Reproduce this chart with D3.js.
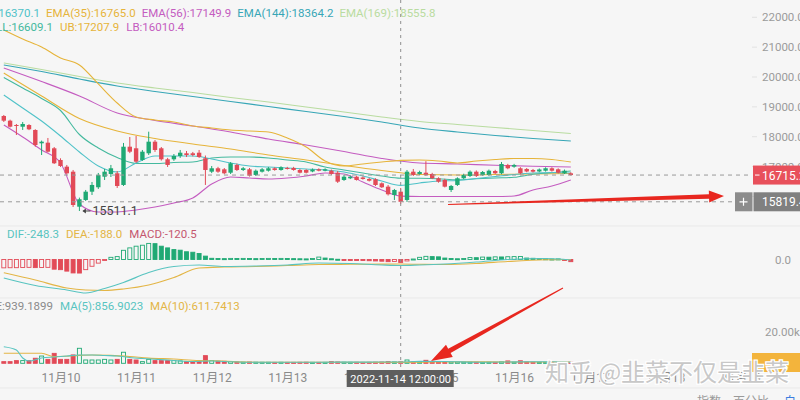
<!DOCTYPE html>
<html>
<head>
<meta charset="utf-8">
<script src="https://cdn.jsdelivr.net/npm/d3@7"></script>
<style>
  body { margin: 0; background: #f6f6f6; }
  svg { display: block; font-family: Roboto, "Noto Sans CJK SC", sans-serif; }
</style>
</head>
<body>
<script>
const width = 800;
const height = 400;

// 2H candles, first one at 2022-11-09 06:00
const startTime = new Date(2022, 10, 9, 6);
const crossIndex = 63;

const open = [18694,18537,18392,18335,18392,18225,17779,17800,17612,17220,
  16996,16828,15655,15880,16158,16306,16660,16751,16774,16383,
  17665,17612,17220,17444,17833,17612,17243,17243,17354,17444,
  17444,17464,17277,16828,16942,16908,16794,17053,16885,16908,
  16718,16828,16861,16942,16885,16952,16952,16885,16885,16835,
  16908,16861,16861,16794,16550,16607,16660,16634,16584,16574,
  16439,16326,16047,16158,15880,16828,16751,16794,16751,16607,
  16550,16215,16383,16607,16684,16828,16718,16718,16851,16774,
  17053,16996,16942,16919,16885,16835,16861,16942,16908,16774,
  16774];
const high = [18728,18570,18426,18493,18420,18250,17870,17957,17655,17277,
  17053,16885,15960,16215,16483,16785,16919,17053,16851,17790,
  17990,18024,17555,18168,17890,17655,17290,17420,17555,17521,
  17490,17555,17370,17019,16990,16950,17150,17100,16986,16952,
  16902,16950,16986,16975,17010,16990,16990,16920,16910,16935,
  16940,16940,16900,16851,16718,16700,16700,16670,16620,16607,
  16470,16383,16250,16282,16885,16919,16860,17180,16790,16640,
  16590,16383,16640,16760,16870,16870,16850,16900,16890,17153,
  17090,17090,16980,16950,16920,16935,16975,16975,16940,16900,
  16810];
const low = [18493,18310,18057,18225,18220,17665,17387,17470,17086,16986,
  16735,15645,15511.1,15846,16047,16250,16550,16650,16282,16349,
  17450,17120,17190,17387,17490,17200,16986,17190,17290,17320,
  17340,17290,16383,16780,16790,16740,16750,16851,16851,16665,
  16684,16800,16830,16860,16860,16900,16860,16770,16770,16810,
  16840,16840,16720,16450,16520,16580,16530,16560,16500,16349,
  16282,16030,15880,15746,15815,16684,16720,16684,16580,16460,
  16300,16148,16349,16580,16650,16650,16690,16690,16750,16740,
  16910,16960,16740,16810,16800,16810,16830,16830,16770,16750,
  16700];
const close = [18537,18335,18359,18426,18248,17722,17833,17498,17110,17019,
  16774,15712,15904,16158,16383,16718,16828,16942,16349,17665,
  17498,17163,17498,17833,17555,17243,17053,17354,17464,17387,
  17387,17320,16885,16942,16828,16774,17110,16885,16942,16694,
  16861,16908,16942,16885,16976,16919,16885,16794,16794,16902,
  16861,16908,16751,16493,16660,16660,16550,16584,16526,16383,
  16306,16071,16215,15819.4,16828,16718,16818,16718,16607,16493,
  16326,16349,16607,16718,16828,16684,16818,16861,16774,17086,
  16942,17053,16774,16835,16828,16902,16942,16861,16794,16861,
  16715.2];
const volume = [1050,1050,1700,1700,1700,3200,4600,2500,6300,2500,
  2500,5300,9500,2100,2100,2100,2500,2100,2500,7000,
  2500,2100,1050,2500,1700,1700,1700,1700,1500,1050,
  1050,1050,4850,1700,1270,1270,1050,850,700,800,
  700,650,650,600,650,600,600,650,700,600,
  600,600,1050,850,700,650,650,600,650,700,
  800,1050,850,939,2100,900,700,1900,800,750,
  900,800,800,700,700,650,600,650,600,900,
  1500,700,1600,800,650,600,600,650,600,600,
  650];
const macdHist = [-345,-340,-338,-330,-325,-335,-330,-325,-400,-420,
  -480,-555,-560,-420,-280,-150,-10,90,120,380,
  480,550,590,665,655,550,480,410,385,320,
  300,250,140,50,40,35,45,40,45,40,
  35,40,45,40,45,40,35,30,25,40,
  100,60,30,10,-20,-25,-30,-40,-50,-60,
  -70,-90,-80,-120.5,-60,20,90,130,120,110,
  60,40,30,40,80,75,100,95,110,105,
  115,120,125,60,50,40,30,20,25,-30,
  -90];

const idx6 = d3.range(0, 91, 6);
const idx3 = d3.range(0, 91, 3);
const ema169 = [20469,20251,20017,19799,19632,19481,19313,19163,18995,18828,18660,18509,18409,18308,18208,18107];
const ema144 = [20402,20184,19933,19699,19514,19347,19179,19012,18844,18677,18493,18292,18158,18040,17940,17856];
const ema56 = [20302,19849,19364,18794,18543,18359,18158,17923,17722,17504,17270,17119,17086,17042,17009,16985];
const ema35 = [20134,19364,18610,18191,17940,17756,17588,17387,17220,17035,16868,16734,16718,16734,16751,16767];
const emaFast = [19397,18962,18526,18024,17488,17019,16818,17119,17354,17354,17354,17253,17119,17019,16985,16952,16918,16885,16818,16684,16516,16370,16449,16516,16533,16600,16667,16734,16784,16801,16784];
const bollUp = [21575,21273,21005,20637,20402,19766,19129,18660,18560,18493,18359,18292,18225,18191,18158,17957,17655,17186,17019,17086,17153,17208,17220,17186,17119,17186,17237,17270,17270,17237,17153];
const bollMid = [19983,19632,19280,18878,18074,17622,17303,17102,17102,17136,17153,17287,17320,17320,17287,17220,17153,16985,16885,16784,16684,16609,16609,16590,16556,16590,16617,16640,16741,16791,16851];
const bollLow = [18392,17990,17555,17119,15746,15478,15478,15545,15645,15779,15947,16416,16650,16617,16584,16617,16684,16784,16751,16483,16215,16010,15997,15997,15997,15997,15997,16014,16215,16349,16550];

const macdIdx = [0,5,10,13,16,19,23,27,31,35,40,45,50,55,60,63,66,70,75,80,86,90];
const dif = [-764,-1074,-1260,-1384,-1198,-950,-537,-289,-227,-289,-268,-227,-145,-165,-227,-248,-227,-186,-103,0,41,-21];
const dea = [-545,-847,-1177,-1260,-1280,-1218,-1053,-743,-351,-310,-289,-248,-207,-198,-190,-188,-198,-207,-165,-83,-12,0];

const ma5Idx = [0,2,3,4,6,8,10,12,14,16,18,20,22,24,26,28,30,33,36,40,50,58,63,66,70,76,82,86,90];
const volMa5 = [10508,8420,3355,1456,3355,3988,4621,5254,5254,4937,4621,3671,3038,2532,2089,1456,1139,1456,950,633,700,760,857,1200,1100,700,900,1000,700];
const ma10Idx = [0,3,6,8,10,12,14,17,20,23,27,31,34,37,42,50,58,63,68,74,80,86,90];
const volMa10 = [6330,6330,6400,4200,4500,5000,5254,5000,4300,3300,2700,1700,1600,900,650,620,600,612,900,1000,800,850,800];

// legend texts
const emaLegend = [["EMA(12)", 16370.1], ["EMA(35)", 16765.0], ["EMA(56)", 17149.9], ["EMA(144)", 18364.2], ["EMA(169)", 18555.8]];
const bollLegend = [["BOLL", 16609.1], ["UB", 17207.9], ["LB", 16010.4]];
const macdLegend = [["DIF", -248.3], ["DEA", -188.0], ["MACD", -120.5]];
const volLegend = [["VOLUME", "939.1899"], ["MA(5)", "856.9023"], ["MA(10)", "611.7413"]];
const priceTicks = [16000, 17000, 18000, 19000, 20000, 21000, 22000];

const C = {
  up: "#1fa974", down: "#e24a57",
  fast: "#4fc2c8", e35: "#e6b43a", e56: "#c45cc0", e144: "#37a6b6", e169: "#b9dca0",
  mid: "#44b99e", ub: "#e6b43a", lb: "#c45cc0"
};

const candleTime = i => new Date(startTime.getTime() + i * 2 * 3600 * 1000);

const x = d3.scaleTime()
  .domain([new Date(2022, 10, 10), new Date(2022, 10, 19)])
  .range([60.5, 60.5 + 9 * 75.6]);
const y = d3.scaleLinear().domain([16000, 22000]).range([196.4, 17.3]);
const yMacd = d3.scaleLinear().domain([0, 1000]).range([259.5, 235.3]);
const yVol = d3.scaleLinear().domain([0, 20000]).range([363.3, 331.7]);

const svg = d3.select("body").append("svg")
  .attr("width", width)
  .attr("height", height);

svg.append("rect").attr("width", width).attr("height", height).attr("fill", "#f6f6f6");

// panel separators
[226, 298, 388].forEach(v => {
  svg.append("line").attr("x1", 0).attr("x2", width).attr("y1", v).attr("y2", v)
    .attr("stroke", "#e9e9e9");
});

const candles = d3.range(open.length).map(i => ({
  i, t: candleTime(i), o: open[i], h: high[i], l: low[i], c: close[i],
  vol: volume[i], hist: macdHist[i]
}));

// price axis
svg.append("g")
  .attr("transform", "translate(762,0)")
  .call(d3.axisRight(y).tickValues(priceTicks).tickFormat(d3.format(".1f")).tickSize(0).tickPadding(0))
  .call(g => g.select(".domain").remove())
  .selectAll("text")
  .attr("fill", "#9b9b9b")
  .style("font-size", "11.5px")
  .style("font-family", "Roboto");

priceTicks.forEach(p => {
  svg.append("line").attr("x1", 752).attr("x2", 757).attr("y1", y(p)).attr("y2", y(p))
    .attr("stroke", "#e2e2e2");
});

// indicator lines
function drawLine(idx, vals, scale, color, w) {
  const pts = idx.map((k, j) => [x(candleTime(k)), scale(vals[j])]);
  svg.append("path")
    .attr("d", d3.line().curve(d3.curveMonotoneX)(pts))
    .attr("fill", "none")
    .attr("stroke", color)
    .attr("stroke-width", w || 1.1);
}
drawLine(idx6, ema169, y, C.e169);
drawLine(idx6, ema144, y, C.e144);
drawLine(idx6, ema56, y, C.e56);
drawLine(idx6, ema35, y, C.e35);
drawLine(idx3, bollUp, y, C.ub);
drawLine(idx3, bollLow, y, C.lb);
drawLine(idx3, bollMid, y, C.mid);
drawLine(idx3, emaFast, y, C.fast);

// candles
const bw = 4.4;
const cg = svg.append("g");
cg.selectAll("line").data(candles).join("line")
  .attr("x1", d => x(d.t)).attr("x2", d => x(d.t))
  .attr("y1", d => y(d.h)).attr("y2", d => y(d.l))
  .attr("stroke", d => d.c >= d.o ? C.up : C.down)
  .attr("stroke-width", 1);
cg.selectAll("rect").data(candles).join("rect")
  .attr("x", d => x(d.t) - bw / 2)
  .attr("width", bw)
  .attr("y", d => y(Math.max(d.o, d.c)))
  .attr("height", d => Math.max(1, Math.abs(y(d.o) - y(d.c))))
  .attr("fill", d => d.c >= d.o ? C.up : C.down);

// lowest price marker
const lowIdx = d3.minIndex(low);
const lx = x(candleTime(lowIdx)), ly = y(low[lowIdx]);
svg.append("path")
  .attr("d", `M${lx + 4},${ly} L${lx + 11},${ly}`)
  .attr("stroke", "#444").attr("stroke-width", 1);
svg.append("path")
  .attr("d", `M${lx + 3},${ly} L${lx + 6.5},${ly - 2.5} L${lx + 6.5},${ly + 2.5} Z`)
  .attr("fill", "#444");
svg.append("text")
  .attr("x", lx + 13).attr("y", ly + 4)
  .attr("fill", "#444").style("font-size", "12.5px")
  .text(d3.format(".1f")(low[lowIdx]));

// MACD histogram
const mg = svg.append("g");
mg.selectAll("rect").data(candles).join("rect")
  .attr("x", d => x(d.t) - 2)
  .attr("width", 4)
  .attr("y", d => Math.min(yMacd(0), yMacd(d.hist)))
  .attr("height", d => Math.max(1, Math.abs(yMacd(d.hist) - yMacd(0))))
  .attr("fill", d => (d.i === 0 || d.hist > macdHist[d.i - 1]) ? "#f6f6f6" : (d.hist >= 0 ? C.up : C.down))
  .attr("stroke", d => d.hist >= 0 ? C.up : C.down)
  .attr("stroke-width", 0.9);
drawLine(macdIdx, dea, yMacd, "#e3b545");
drawLine(macdIdx, dif, yMacd, "#58c4c0");

// volume
const vg = svg.append("g");
vg.selectAll("rect").data(candles).join("rect")
  .attr("x", d => x(d.t) - 2)
  .attr("width", 4)
  .attr("y", d => yVol(d.vol))
  .attr("height", d => Math.max(1, yVol(0) - yVol(d.vol)))
  .attr("fill", d => d.c >= d.o ? "#f6f6f6" : C.down)
  .attr("stroke", d => d.c >= d.o ? C.up : C.down)
  .attr("stroke-width", 0.9);
drawLine(ma10Idx, volMa10, yVol, "#e3b545");
drawLine(ma5Idx, volMa5, yVol, "#58c4c0");

svg.append("text").attr("x", 775).attr("y", yMacd(0) + 4).attr("fill", "#9b9b9b")
  .style("font-size", "11.5px").text("0.0");
svg.append("text").attr("x", 765).attr("y", yVol(20000) + 4).attr("fill", "#9b9b9b")
  .style("font-size", "11.5px").text("20.00k");

// legends
function legend(items, yPos, xPos, anchorEnd, gap) {
  const t = svg.append("text").attr("y", yPos).style("font-size", "11.5px");
  const spans = items.map((d, j) => t.append("tspan")
    .attr("dx", j === 0 ? 0 : gap)
    .attr("fill", d[2])
    .text(d[0]));
  if (anchorEnd) {
    t.attr("x", xPos - spans[0].node().getComputedTextLength());
  } else {
    t.attr("x", xPos);
  }
}
const emaColors = [C.fast, C.e35, C.e56, C.e144, C.e169];
legend(emaLegend.map((d, j) => [`${d[0]}:${d[1].toFixed(1)}`, 0, emaColors[j]]), 16.5, 40, true, 6);
const bollColors = [C.mid, C.ub, C.lb];
legend(bollLegend.map((d, j) => [`${d[0]}:${d[1].toFixed(1)}`, 0, bollColors[j]]), 31, 53, true, 7);
const macdColors = ["#58c4c0", "#e3b545", "#c4566e"];
legend(macdLegend.map((d, j) => [`${d[0]}:${d[1].toFixed(1)}`, 0, macdColors[j]]), 238, 7, false, 7);
const volColors = ["#8a8a8a", "#58c4c0", "#e3b545"];
legend(volLegend.map((d, j) => [`${d[0]}:${d[1]}`, 0, volColors[j]]), 310, 53, true, 7);

// time axis
const dayTicks = d3.timeDay.range(new Date(2022, 10, 10), new Date(2022, 10, 20));
svg.append("g")
  .attr("transform", "translate(0,370.5)")
  .call(d3.axisBottom(x).tickValues(dayTicks).tickFormat(d => `11月${d.getDate()}`).tickSize(0).tickPadding(3))
  .call(g => g.select(".domain").remove())
  .selectAll("text")
  .attr("fill", "#8a8a8a")
  .style("font-size", "12px")
  .style("font-family", "Roboto, 'Noto Sans CJK SC'");

// current price / crosshair lines
const lastClose = close[close.length - 1];
const crossPrice = close[crossIndex];
const cx = x(candleTime(crossIndex));
svg.append("line").attr("x1", 0).attr("x2", 752).attr("y1", y(lastClose)).attr("y2", y(lastClose))
  .attr("stroke", "#9a9a9a").attr("stroke-dasharray", "4,4");
svg.append("line").attr("x1", 0).attr("x2", 735).attr("y1", y(crossPrice)).attr("y2", y(crossPrice))
  .attr("stroke", "#9a9a9a").attr("stroke-dasharray", "4,4");
svg.append("line").attr("x1", cx).attr("x2", cx).attr("y1", 0).attr("y2", 370)
  .attr("stroke", "#8f8f8f").attr("stroke-dasharray", "3,4");

// price tags
svg.append("rect").attr("x", 753).attr("y", y(lastClose) - 9.5).attr("width", 50).attr("height", 19)
  .attr("fill", "#e8505b");
svg.append("line").attr("x1", 755).attr("x2", 759.5).attr("y1", y(lastClose)).attr("y2", y(lastClose))
  .attr("stroke", "#fff");
svg.append("text").attr("x", 762).attr("y", y(lastClose) + 4.5).attr("fill", "#fff")
  .style("font-size", "12px").text(d3.format(".1f")(lastClose));

svg.append("rect").attr("x", 735).attr("y", y(crossPrice) - 9.5).attr("width", 17.5).attr("height", 19)
  .attr("fill", "#8c8c8c");
svg.append("path")
  .attr("d", `M739.5,${y(crossPrice)} h8 M743.5,${y(crossPrice) - 4} v8`)
  .attr("stroke", "#fff").attr("stroke-width", 1.2);
svg.append("rect").attr("x", 753.5).attr("y", y(crossPrice) - 9.5).attr("width", 50).attr("height", 19)
  .attr("fill", "#808080");
svg.append("text").attr("x", 762).attr("y", y(crossPrice) + 4.5).attr("fill", "#fff")
  .style("font-size", "12px").text(d3.format(".1f")(crossPrice));

// volume tag
svg.append("rect").attr("x", 752).attr("y", 353).attr("width", 50).attr("height", 19)
  .attr("fill", "#f3b43c");

// crosshair time tag
svg.append("rect").attr("x", cx - 54).attr("y", 370).attr("width", 107).attr("height", 17)
  .attr("fill", "#5e5e5e");
svg.append("text").attr("x", cx).attr("y", 382.5).attr("text-anchor", "middle")
  .attr("fill", "#fff").style("font-size", "11px")
  .text(d3.timeFormat("%Y-%m-%d %H:%M:%S")(candleTime(crossIndex)));

// bottom toolbar (cut off)
[["指数", 697], ["百分比", 733], ["自", 784]].forEach(([s, px]) => {
  svg.append("text").attr("x", px).attr("y", 406).attr("fill", px > 780 ? "#3b7de0" : "#9a9a9a")
    .style("font-size", "12px").style("font-family", "'Noto Sans CJK SC'").text(s);
});

// red arrows
function arrow(x1, y1, x2, y2, w0, w1, hl, hw) {
  const len = Math.hypot(x2 - x1, y2 - y1);
  const ux = (x2 - x1) / len, uy = (y2 - y1) / len;
  const nx = -uy, ny = ux;
  const bx = x2 - ux * hl, by = y2 - uy * hl;
  const p = [
    [x1 + nx * w0 / 2, y1 + ny * w0 / 2],
    [bx + nx * w1 / 2, by + ny * w1 / 2],
    [bx + nx * hw / 2, by + ny * hw / 2],
    [x2, y2],
    [bx - nx * hw / 2, by - ny * hw / 2],
    [bx - nx * w1 / 2, by - ny * w1 / 2],
    [x1 - nx * w0 / 2, y1 - ny * w0 / 2]
  ];
  svg.append("path").attr("d", "M" + p.join("L") + "Z").attr("fill", "#e8271f");
}
arrow(448, 204.5, 724, 196, 1, 4.5, 15, 12);
arrow(563, 288, 431, 361, 1, 5, 21, 14);

// watermark
svg.append("text").attr("x", 545).attr("y", 381)
  .attr("fill", "#c8c8c8").attr("stroke", "#ffffff").attr("stroke-width", 2.5)
  .style("paint-order", "stroke")
  .style("font-size", "24px").style("font-family", "'Noto Sans CJK SC'")
  .text("知乎 @韭菜不仅是韭菜");
</script>
</body>
</html>
